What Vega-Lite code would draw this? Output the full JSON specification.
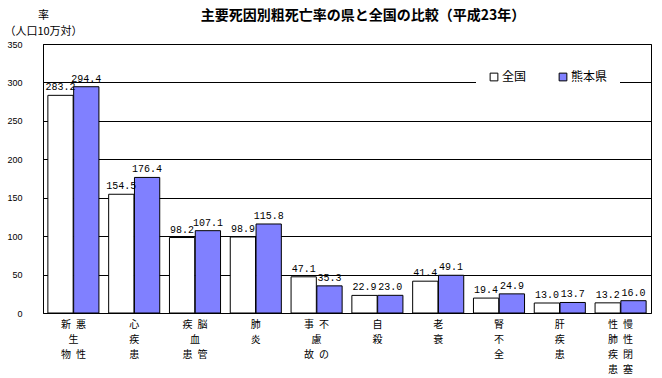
{
  "$schema": "https://vega.github.io/schema/vega-lite/v6.json",
  "width": 608,
  "height": 269,
  "autosize": "none",
  "padding": {"left": 43, "top": 44, "right": 11, "bottom": 65},
  "background": "white",
  "title": {
    "text": "主要死因別粗死亡率の県と全国の比較（平成23年）",
    "font": "Noto Sans CJK JP",
    "fontSize": 14,
    "fontWeight": "bold",
    "anchor": "middle",
    "dx": 16,
    "offset": -14,
    "color": "black"
  },
  "config": {
    "view": {"stroke": "black", "strokeWidth": 1},
    "axis": {"labelColor": "black", "titleColor": "black"}
  },
  "data": {
    "values": [
      {"cause": "悪性新生物", "area": "全国", "rate": 283.2},
      {"cause": "悪性新生物", "area": "熊本県", "rate": 294.4},
      {"cause": "心疾患", "area": "全国", "rate": 154.5},
      {"cause": "心疾患", "area": "熊本県", "rate": 176.4},
      {"cause": "脳血管疾患", "area": "全国", "rate": 98.2},
      {"cause": "脳血管疾患", "area": "熊本県", "rate": 107.1},
      {"cause": "肺炎", "area": "全国", "rate": 98.9},
      {"cause": "肺炎", "area": "熊本県", "rate": 115.8},
      {"cause": "不慮の事故", "area": "全国", "rate": 47.1},
      {"cause": "不慮の事故", "area": "熊本県", "rate": 35.3},
      {"cause": "自殺", "area": "全国", "rate": 22.9},
      {"cause": "自殺", "area": "熊本県", "rate": 23.0},
      {"cause": "老衰", "area": "全国", "rate": 41.4},
      {"cause": "老衰", "area": "熊本県", "rate": 49.1},
      {"cause": "腎不全", "area": "全国", "rate": 19.4},
      {"cause": "腎不全", "area": "熊本県", "rate": 24.9},
      {"cause": "肝疾患", "area": "全国", "rate": 13.0},
      {"cause": "肝疾患", "area": "熊本県", "rate": 13.7},
      {"cause": "慢性閉塞性肺疾患", "area": "全国", "rate": 13.2},
      {"cause": "慢性閉塞性肺疾患", "area": "熊本県", "rate": 16.0}
    ]
  },
  "encoding": {
    "x": {
      "field": "cause",
      "type": "nominal",
      "sort": null,
      "scale": {"paddingInner": 0.16, "paddingOuter": 0.08},
      "axis": {
        "title": null,
        "ticks": false,
        "domain": false,
        "labelAngle": 0,
        "labelFont": "Noto Sans CJK JP",
        "labelFontSize": 10,
        "labelLineHeight": 15,
        "labelPadding": 6,
        "labelBaseline": "top",
        "labelExpr": "datum.value == '悪性新生物' ? ['新\u2002悪','生\u2002\u3000','物\u2002性'] : datum.value == '心疾患' ? ['心','疾','患'] : datum.value == '脳血管疾患' ? ['疾\u2002脳','\u3000\u2002血','患\u2002管'] : datum.value == '肺炎' ? ['肺','','炎'] : datum.value == '不慮の事故' ? ['事\u2002不','\u3000\u2002慮','故\u2002の'] : datum.value == '自殺' ? ['自','','殺'] : datum.value == '老衰' ? ['老','','衰'] : datum.value == '腎不全' ? ['腎','不','全'] : datum.value == '肝疾患' ? ['肝','疾','患'] : ['性\u2002慢','肺\u2002性','疾\u2002閉','患\u2002塞']"
      }
    },
    "xOffset": {"field": "area", "sort": ["全国", "熊本県"], "scale": {"paddingInner": 0.02}},
    "y": {
      "field": "rate",
      "type": "quantitative",
      "scale": {"domain": [0, 350]},
      "axis": {
        "values": [0, 50, 100, 150, 200, 250, 300, 350],
        "title": ["率", "（人口10万対）"],
        "titleAngle": 0,
        "titleAlign": "center",
        "titleBaseline": "top",
        "titleX": 0,
        "titleY": -35,
        "titleFont": "Noto Sans CJK JP",
        "titleFontSize": 11,
        "titleFontWeight": "normal",
        "titleLineHeight": 16,
        "ticks": false,
        "labelPadding": 21,
        "labelFont": "Liberation Sans",
        "labelFontSize": 9,
        "grid": true,
        "gridColor": "black",
        "gridOpacity": 1,
        "gridWidth": 1,
        "domainColor": "black"
      }
    }
  },
  "layer": [
    {
      "mark": {"type": "bar", "stroke": "black", "strokeWidth": 1},
      "encoding": {
        "color": {
          "field": "area",
          "type": "nominal",
          "scale": {"domain": ["全国", "熊本県"], "range": ["#FFFFFF", "#8080FF"]},
          "legend": {
            "title": null,
            "orient": "none",
            "legendX": 433,
            "legendY": 15,
            "direction": "horizontal",
            "fillColor": "white",
            "padding": 12,
            "symbolType": "square",
            "symbolSize": 60,
            "symbolStrokeColor": "black",
            "symbolStrokeWidth": 1,
            "labelFont": "Noto Sans CJK JP",
            "labelFontSize": 12,
            "labelColor": "black",
            "labelOffset": 2,
            "columnPadding": 30
          }
        }
      }
    },
    {
      "mark": {"type": "text", "baseline": "bottom", "dy": -3, "font": "Liberation Mono", "fontSize": 10, "color": "black"},
      "encoding": {"text": {"field": "rate", "type": "quantitative", "format": ".1f"}}
    }
  ]
}
